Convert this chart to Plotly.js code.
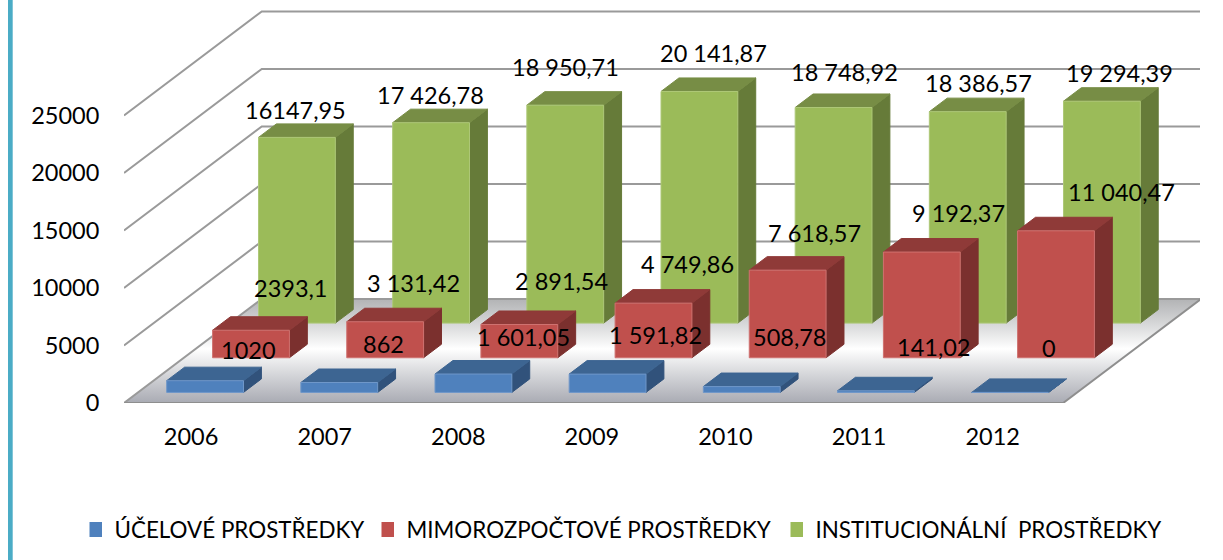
<!DOCTYPE html>
<html>
<head>
<meta charset="utf-8">
<script src="https://cdn.plot.ly/plotly-3.0.1.min.js"></script>
<style>html,body{margin:0;padding:0;background:#fff}#chart{width:1223px;height:560px}</style>
</head>
<body>
<div id="chart"></div>
<script>
// ---- data ----
const years = ["2006","2007","2008","2009","2010","2011","2012"];
const seriesNames = ["ÚČELOVÉ PROSTŘEDKY","MIMOROZPOČTOVÉ PROSTŘEDKY","INSTITUCIONÁLNÍ\u00A0 PROSTŘEDKY"];
const ucelove = [1020,862,1601.05,1591.82,508.78,141.02,0];
const mimorozpoctove = [2393.1,3131.42,2891.54,4749.86,7618.57,9192.37,11040.47];
const institucionalni = [16147.95,17426.78,18950.71,20141.87,18748.92,18386.57,19294.39];
const uceloveLabels = ["1020","862","1 601,05","1 591,82","508,78","141,02","0"];
const mimoLabels = ["2393,1","3 131,42","2 891,54","4 749,86","7 618,57","9 192,37","11 040,47"];
const instLabels = ["16147,95","17 426,78","18 950,71","20 141,87","18 748,92","18 386,57","19 294,39"];
const valueTicks = [0,5000,10000,15000,20000,25000];

// ---- label nudges (pixels from each bar's top centre) ----
const nudgeX = [[34,35,41,39,39,49,30],[31,19,33,25,18,28,57],[-10,-10,-9,5,2,2,9]];
const nudgeY = [[24,32,30,32,43,37,38],[35,32,37,32,30,32,32],[21,21,31,32,29,22,21]];
// left edge of each legend entry, pixels
const legendLeft = [89.5,381.5,790.5];

// ---- oblique projection ----
const DEPTH_X = 1.0267;   // category units for full floor depth
const DEPTH_Y = 9043;     // value units for full floor depth
const BAR_MARGIN = 0.2137;
const HALF_DEPTH = 0.065;
const TICK_STEP = 0.9958; // the year labels sit slightly tighter than the bars
const FONT = "Lato, Carlito, sans-serif";
const TXT = "#000000";
const proj = (cat, val, d) => [cat + d*DEPTH_X, val + d*DEPTH_Y];

function poly(points){
  const xs=[], ys=[];
  points.forEach(p=>{const q=proj(p[0],p[1],p[2]);xs.push(q[0]);ys.push(q[1]);});
  const q0=proj(points[0][0],points[0][1],points[0][2]);
  xs.push(q0[0],null);ys.push(q0[1],null);
  return [xs,ys];
}
function facesFor(values, s){
  const dc=(s+0.5)/3, d0=dc-HALF_DEPTH, d1=dc+HALF_DEPTH;
  const out={front:[[],[]],top:[[],[]],side:[[],[]]};
  values.forEach((v,i)=>{
    const a=i+BAR_MARGIN,b=i+1-BAR_MARGIN;
    const add=(k,pts)=>{const r=poly(pts);out[k][0].push(...r[0]);out[k][1].push(...r[1]);};
    add("front",[[a,0,d0],[b,0,d0],[b,v,d0],[a,v,d0]]);
    add("side",[[b,0,d0],[b,0,d1],[b,v,d1],[b,v,d0]]);
    add("top",[[a,v,d0],[b,v,d0],[b,v,d1],[a,v,d1]]);
  });
  return out;
}
const palette=[
 {front:"#4f81bd",top:"#3d6592",side:"#31527b",edge:"#6f97c9",leg:"#4f81bd"},
 {front:"#c0504d",top:"#8f3a38",side:"#7b302e",edge:"#cf7270",leg:"#c0504d"},
 {front:"#9bbb59",top:"#778d45",side:"#667b39",edge:"#aec878",leg:"#9bbb59"}
];
const N=years.length;
const traces=[];
const legendIds=["legend","legend2","legend3"];
// legend-only swatches
seriesNames.forEach((n,s)=>traces.push({type:"scatter",mode:"markers",name:n,x:[null],y:[null],legend:legendIds[s],
  marker:{symbol:"square",size:15,color:palette[s].leg},showlegend:true,hoverinfo:"skip"}));
// floor
const fl=poly([[0,0,0],[N,0,0],[N,0,1],[0,0,1]]);
traces.push({type:"scatter",mode:"none",x:fl[0].slice(0,-1),y:fl[1].slice(0,-1),fill:"toself",showlegend:false,hoverinfo:"skip",cliponaxis:false,
  fillcolor:"#dddddd",
  fillgradient:{type:"vertical",colorscale:[[0,"#a9abb3"],[0.3,"#d9dadd"],[0.52,"#ffffff"],[0.75,"#d8d9da"],[1,"#b2b3b5"]]}});
// gridlines
const gx=[],gy=[];
valueTicks.forEach(v=>{
  [[0,v,0],[0,v,1],[N,v,1]].forEach(p=>{const q=proj(p[0],p[1],p[2]);gx.push(q[0]);gy.push(q[1]);});
  gx.push(null);gy.push(null);
});
traces.push({type:"scatter",mode:"lines",x:gx,y:gy,line:{color:"#9a9a9a",width:2},showlegend:false,hoverinfo:"skip",cliponaxis:false});
// floor front and right edges
const ex=[],ey=[];
[[0,0,0],[N,0,0],[N,0,1]].forEach(p=>{const q=proj(p[0],p[1],p[2]);ex.push(q[0]);ey.push(q[1]);});
traces.push({type:"scatter",mode:"lines",x:ex,y:ey,line:{color:"#8e8e8e",width:2},showlegend:false,hoverinfo:"skip",cliponaxis:false});
// bars, back row first
[[2,institucionalni],[1,mimorozpoctove],[0,ucelove]].forEach(([s,vals])=>{
  const f=facesFor(vals,s);
  ["side","top","front"].forEach(k=>{
    traces.push({type:"scatter",mode:"lines",x:f[k][0],y:f[k][1],fill:"toself",fillcolor:palette[s][k],
      line:{color:k==="front"?palette[s].edge:palette[s][k],width:1},
      name:seriesNames[s],showlegend:false,hoverinfo:"skip",cliponaxis:false});
  });
});
// data labels
const annotations=[];
[[0,ucelove,uceloveLabels],[1,mimorozpoctove,mimoLabels],[2,institucionalni,instLabels]].forEach(([s,vals,labs])=>{
  vals.forEach((v,i)=>{
    const q=proj(i+0.5,v,(s+0.5)/3);
    annotations.push({x:q[0],y:q[1],xref:"x",yref:"y",text:labs[i],showarrow:false,xanchor:"center",yanchor:"middle",
      xshift:nudgeX[s][i],yshift:nudgeY[s][i],font:{family:FONT,size:23.5,color:TXT}});
  });
});
const W=1223,H=560,L=124,T=10,B=157,R=23;
const legendCfg=left=>({orientation:"h",x:(left-L)/(W-L-R),xanchor:"left",y:(403-530)/(H-T-B),yanchor:"middle",bgcolor:"rgba(0,0,0,0)",
    font:{family:FONT,size:22.4,color:TXT},indentation:-15});
const layout={
  width:W,height:H,paper_bgcolor:"#ffffff",plot_bgcolor:"rgba(0,0,0,0)",
  margin:{l:L,r:R,t:T,b:B,pad:0,autoexpand:false},
  font:{family:FONT,size:23.5,color:TXT},
  hovermode:false,
  xaxis:{range:[0,8.02],tickmode:"array",tickvals:years.map((y,i)=>0.5+i*TICK_STEP),ticktext:years,showgrid:false,zeroline:false,showline:false,
    ticks:"outside",ticklen:13,tickcolor:"rgba(0,0,0,0)",fixedrange:true,tickfont:{family:FONT,size:23.5,color:TXT}},
  yaxis:{range:[0,34174],tickmode:"array",tickvals:valueTicks,ticktext:valueTicks.map(String),showgrid:false,zeroline:false,showline:false,
    ticks:"outside",ticklen:19,tickcolor:"rgba(0,0,0,0)",fixedrange:true,tickfont:{family:FONT,size:23.5,color:TXT}},
  legend:legendCfg(legendLeft[0]),legend2:legendCfg(legendLeft[1]),legend3:legendCfg(legendLeft[2]),
  shapes:[{type:"rect",xref:"paper",yref:"paper",x0:(8-L)/(W-L-R),x1:(12.7-L)/(W-L-R),y0:(403-H)/(H-T-B),y1:(403)/(H-T-B),
    fillcolor:"#4bacc6",line:{width:0},layer:"below"}],
  annotations:annotations
};
Plotly.newPlot("chart",traces,layout,{displayModeBar:false,responsive:false,staticPlot:true});
</script>
</body>
</html>
